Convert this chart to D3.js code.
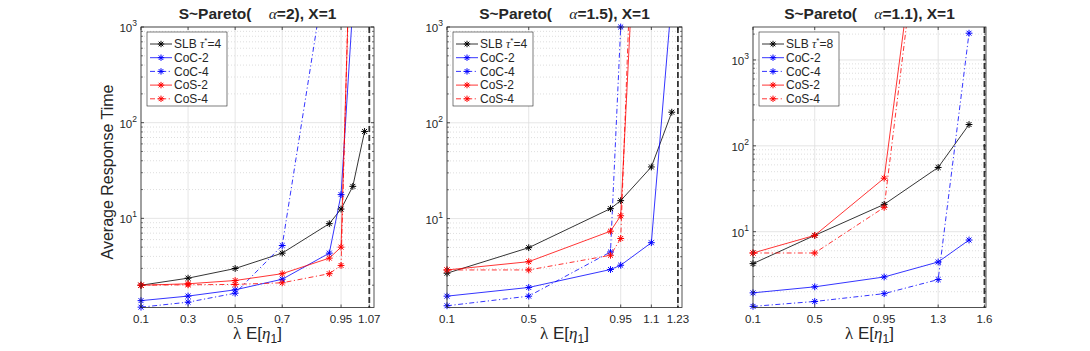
<!DOCTYPE html>
<html><head><meta charset="utf-8">
<script src="https://cdn.jsdelivr.net/npm/d3@7/dist/d3.min.js"></script>
<style>
body{margin:0;background:#fff}
svg{display:block}
text{font-family:"Liberation Sans",Arial,Helvetica,sans-serif;fill:#262626}
</style>
</head><body>
<svg id="chart" width="1090" height="351"></svg>
<script>
// ---------------- DATA ----------------
const seriesNames = ["SLB", "CoC-2", "CoC-4", "CoS-2", "CoS-4"];
const panelAlpha = ["2", "1.5", "1.1"];
const panelTau = ["4", "4", "8"];
const stabilityX = [1.07, 1.23, 1.6];

const xTicks1 = [0.1, 0.3, 0.5, 0.7, 0.95, 1.07];
const xTicks2 = [0.1, 0.5, 0.95, 1.1, 1.23];
const xTicks3 = [0.1, 0.5, 0.95, 1.3, 1.6];
const yTickExps = [1, 2, 3];

// Panel 1 (alpha = 2)
const p1_SLB_x = [0.1, 0.3, 0.5, 0.7, 0.9, 0.95, 1.0, 1.05];
const p1_SLB_y = [2.0, 2.37, 2.99, 4.33, 8.8, 12.5, 21.6, 81];
const p1_CoC2_x = [0.1, 0.3, 0.5, 0.7, 0.9, 0.95, 1.0];
const p1_CoC2_y = [1.38, 1.54, 1.79, 2.31, 4.33, 17.7, 1650];
const p1_CoC4_x = [0.1, 0.3, 0.5, 0.7, 0.9];
const p1_CoC4_y = [1.18, 1.33, 1.65, 5.2, 6600];
const p1_CoS2_x = [0.1, 0.3, 0.5, 0.7, 0.9, 0.95, 1.0];
const p1_CoS2_y = [2.0, 2.07, 2.24, 2.64, 3.84, 5.0, 60000];
const p1_CoS4_x = [0.1, 0.3, 0.5, 0.7, 0.9, 0.95, 1.0];
const p1_CoS4_y = [2.0, 2.02, 2.04, 2.12, 2.64, 3.22, 100000];

// Panel 2 (alpha = 1.5)
const p2_SLB_x = [0.1, 0.5, 0.9, 0.95, 1.1, 1.2];
const p2_SLB_y = [2.69, 4.97, 12.7, 15.4, 34.6, 129];
const p2_CoC2_x = [0.1, 0.5, 0.9, 0.95, 1.1, 1.2];
const p2_CoC2_y = [1.55, 1.91, 2.94, 3.26, 5.6, 2000];
const p2_CoC4_x = [0.1, 0.5, 0.9, 0.95];
const p2_CoC4_y = [1.23, 1.55, 4.48, 1000];
const p2_CoS2_x = [0.1, 0.5, 0.9, 0.95, 1.0];
const p2_CoS2_y = [2.91, 3.55, 7.39, 10.7, 1500];
const p2_CoS4_x = [0.1, 0.5, 0.9, 0.95, 1.0];
const p2_CoS4_y = [2.91, 2.91, 4.14, 6.2, 5000];

// Panel 3 (alpha = 1.1)
const p3_SLB_x = [0.1, 0.5, 0.95, 1.3, 1.5];
const p3_SLB_y = [4.25, 9.06, 20.8, 56, 177];
const p3_CoC2_x = [0.1, 0.5, 0.95, 1.3, 1.5];
const p3_CoC2_y = [1.94, 2.28, 2.97, 4.44, 8.0];
const p3_CoC4_x = [0.1, 0.5, 0.95, 1.3, 1.5];
const p3_CoC4_y = [1.35, 1.54, 1.9, 2.77, 2050];
const p3_CoS2_x = [0.1, 0.5, 0.95, 1.3];
const p3_CoS2_y = [5.65, 9.06, 42, 2.7e6];
const p3_CoS4_x = [0.1, 0.5, 0.95, 1.3];
const p3_CoS4_y = [5.65, 5.65, 19.2, 2.6e6];

// --------------- STYLE / LAYOUT ---------------
const seriesColor = ["#000000", "#0000ff", "#0000ff", "#ff0000", "#ff0000"];
const seriesDashed = [false, false, true, false, true];
const DASHDOT = "5,2.5,1.2,2.5";

const panels = [
  {left: 141, right: 374, xDom: [0.1, 1.09], yDom: [1.17, 1000], xTicks: xTicks1,
   xs: [p1_SLB_x, p1_CoC2_x, p1_CoC4_x, p1_CoS2_x, p1_CoS4_x],
   ys: [p1_SLB_y, p1_CoC2_y, p1_CoC4_y, p1_CoS2_y, p1_CoS4_y]},
  {left: 447, right: 682, xDom: [0.1, 1.25], yDom: [1.18, 1000], xTicks: xTicks2,
   xs: [p2_SLB_x, p2_CoC2_x, p2_CoC4_x, p2_CoS2_x, p2_CoS4_x],
   ys: [p2_SLB_y, p2_CoC2_y, p2_CoC4_y, p2_CoS2_y, p2_CoS4_y]},
  {left: 753, right: 986, xDom: [0.1, 1.61], yDom: [1.31, 2420], xTicks: xTicks3,
   xs: [p3_SLB_x, p3_CoC2_x, p3_CoC4_x, p3_CoS2_x, p3_CoS4_x],
   ys: [p3_SLB_y, p3_CoC2_y, p3_CoC4_y, p3_CoS2_y, p3_CoS4_y]}
];
const TOP = 27, BOTTOM = 307.5;
const AXC = "#262626";

const svg = d3.select("#chart");
const defs = svg.append("defs");

function asterisk(r) {
  const a = r * 0.72;
  return `M${-r},0H${r}M0,${-r}V${r}M${-a},${-a}L${a},${a}M${-a},${a}L${a},${-a}`;
}

panels.forEach((p, pi) => {
  const x = d3.scaleLinear().domain(p.xDom).range([p.left, p.right]);
  const y = d3.scaleLog().domain(p.yDom).range([BOTTOM, TOP]);
  const g = svg.append("g");
  const clipId = "clip" + pi;
  defs.append("clipPath").attr("id", clipId).append("rect")
    .attr("x", p.left).attr("y", TOP).attr("width", p.right - p.left).attr("height", BOTTOM - TOP);

  // minor grid (log)
  const minor = [];
  for (let e = 0; e <= 4; e++) for (let m = 2; m <= 9; m++) {
    const v = m * Math.pow(10, e);
    if (v > p.yDom[0] && v < p.yDom[1]) minor.push(v);
  }
  const major = yTickExps.map(e => Math.pow(10, e)).filter(v => v >= p.yDom[0] && v <= p.yDom[1] * 1.0001);
  g.selectAll(".mg").data(minor).join("line")
    .attr("x1", p.left).attr("x2", p.right).attr("y1", d => y(d)).attr("y2", d => y(d))
    .attr("stroke", "#c8c8c8").attr("stroke-width", 0.6).attr("stroke-dasharray", "1,2");
  g.selectAll(".Mg").data(major).join("line")
    .attr("x1", p.left).attr("x2", p.right).attr("y1", d => y(d)).attr("y2", d => y(d))
    .attr("stroke", "#dedede").attr("stroke-width", 0.8);
  g.selectAll(".xg").data(p.xTicks).join("line")
    .attr("x1", d => x(d)).attr("x2", d => x(d)).attr("y1", TOP).attr("y2", BOTTOM)
    .attr("stroke", "#dedede").attr("stroke-width", 0.8);

  // stability dashed line
  g.append("line")
    .attr("x1", x(stabilityX[pi])).attr("x2", x(stabilityX[pi]))
    .attr("y1", TOP).attr("y2", BOTTOM)
    .attr("stroke", "#333").attr("stroke-width", 1.8).attr("stroke-dasharray", "6,3");

  // series lines
  const line = d3.line().x(d => x(d[0])).y(d => y(d[1]));
  const lg = g.append("g").attr("clip-path", `url(#${clipId})`);
  p.xs.forEach((xs, si) => {
    const pts = xs.map((xv, i) => [xv, p.ys[si][i]]);
    lg.append("path").datum(pts).attr("d", line)
      .attr("fill", "none").attr("stroke", seriesColor[si]).attr("stroke-width", 0.8)
      .attr("stroke-dasharray", seriesDashed[si] ? DASHDOT : null);
    const vis = pts.filter(d => d[1] >= p.yDom[0] * 0.999 && d[1] <= p.yDom[1] * 1.001);
    g.selectAll(null).data(vis).join("path")
      .attr("transform", d => `translate(${x(d[0])},${y(d[1])})`)
      .attr("d", asterisk(3.4)).attr("fill", "none")
      .attr("stroke", seriesColor[si]).attr("stroke-width", 1);
  });

  // axes box
  g.append("rect").attr("x", p.left).attr("y", TOP).attr("width", p.right - p.left).attr("height", BOTTOM - TOP)
    .attr("fill", "none").attr("stroke", AXC).attr("stroke-width", 0.8);

  // ticks: x
  p.xTicks.forEach(t => {
    g.append("line").attr("x1", x(t)).attr("x2", x(t)).attr("y1", BOTTOM).attr("y2", BOTTOM - 3).attr("stroke", AXC).attr("stroke-width", 0.8);
    g.append("line").attr("x1", x(t)).attr("x2", x(t)).attr("y1", TOP).attr("y2", TOP + 3).attr("stroke", AXC).attr("stroke-width", 0.8);
  });
  g.selectAll(".xt").data(p.xTicks).join("text")
    .attr("x", d => x(d)).attr("y", BOTTOM + 15).attr("text-anchor", "middle")
    .attr("font-size", 11.5).text(d => String(d));

  // ticks: y
  major.forEach(v => {
    [[p.left, 3], [p.right, -3]].forEach(([xx, L]) => {
      g.append("line").attr("x1", xx).attr("x2", xx + L).attr("y1", y(v)).attr("y2", y(v)).attr("stroke", AXC).attr("stroke-width", 0.8);
    });
  });
  minor.forEach(v => {
    [[p.left, 2], [p.right, -2]].forEach(([xx, L]) => {
      g.append("line").attr("x1", xx).attr("x2", xx + L).attr("y1", y(v)).attr("y2", y(v)).attr("stroke", AXC).attr("stroke-width", 0.6);
    });
  });
  major.forEach(v => {
    const t = g.append("text").attr("x", p.left - 4).attr("y", y(v) + 5).attr("text-anchor", "end").attr("font-size", 11.5);
    t.append("tspan").text("10");
    t.append("tspan").attr("dy", -6).attr("font-size", 8.5).text(String(Math.round(Math.log10(v))));
  });

  // title
  const cx = (p.left + p.right) / 2;
  const tt = g.append("text").attr("x", cx).attr("y", 19).attr("text-anchor", "middle")
    .attr("font-size", 15.5).attr("font-weight", "bold").attr("fill", "#000");
  tt.append("tspan").text("S~Pareto(\u00a0\u00a0\u00a0\u00a0");
  tt.append("tspan").attr("font-family", "'Liberation Serif','DejaVu Serif',serif").attr("font-style", "italic").attr("font-weight", "normal").text("α");
  tt.append("tspan").text("=" + panelAlpha[pi] + "), X=1");

  // x label
  const xl = g.append("text").attr("x", cx).attr("y", 339).attr("text-anchor", "middle").attr("font-size", 17);
  xl.append("tspan").attr("font-family", "'Liberation Serif','DejaVu Serif',serif").text("λ");
  xl.append("tspan").text(" E[");
  xl.append("tspan").attr("font-family", "'Liberation Serif','DejaVu Serif',serif").attr("font-style", "italic").text("η");
  xl.append("tspan").attr("dy", 4).attr("font-size", 12).text("1");
  xl.append("tspan").attr("dy", -4).text("]");

  // legend
  const lx = p.left + 6, ly = 32, lw = 80, lh = 74;
  const leg = g.append("g");
  leg.append("rect").attr("x", lx).attr("y", ly).attr("width", lw).attr("height", lh)
    .attr("fill", "#fff").attr("stroke", AXC).attr("stroke-width", 0.6);
  seriesNames.forEach((name, si) => {
    const yy = ly + 12 + si * 13.7;
    leg.append("line").attr("x1", lx + 3).attr("x2", lx + 25).attr("y1", yy).attr("y2", yy)
      .attr("stroke", seriesColor[si]).attr("stroke-width", 0.8)
      .attr("stroke-dasharray", seriesDashed[si] ? DASHDOT : null);
    leg.append("path").attr("transform", `translate(${lx + 14},${yy})`).attr("d", asterisk(3.2))
      .attr("fill", "none").attr("stroke", seriesColor[si]).attr("stroke-width", 1);
    const tx = leg.append("text").attr("x", lx + 27).attr("y", yy + 4.3).attr("font-size", 12).attr("fill", "#000");
    if (si === 0) {
      tx.append("tspan").text("SLB ");
      tx.append("tspan").attr("font-family", "'Liberation Serif','DejaVu Serif',serif").attr("font-style", "italic").text("τ");
      tx.append("tspan").attr("dy", -5).attr("font-size", 8).text("*");
      tx.append("tspan").attr("dy", 5).text("=" + panelTau[pi]);
    } else {
      tx.text(name);
    }
  });
});

// y label
svg.append("text").attr("transform", "translate(113,172) rotate(-90)").attr("text-anchor", "middle")
  .attr("font-size", 16).text("Average Response Time");
</script>
</body></html>
